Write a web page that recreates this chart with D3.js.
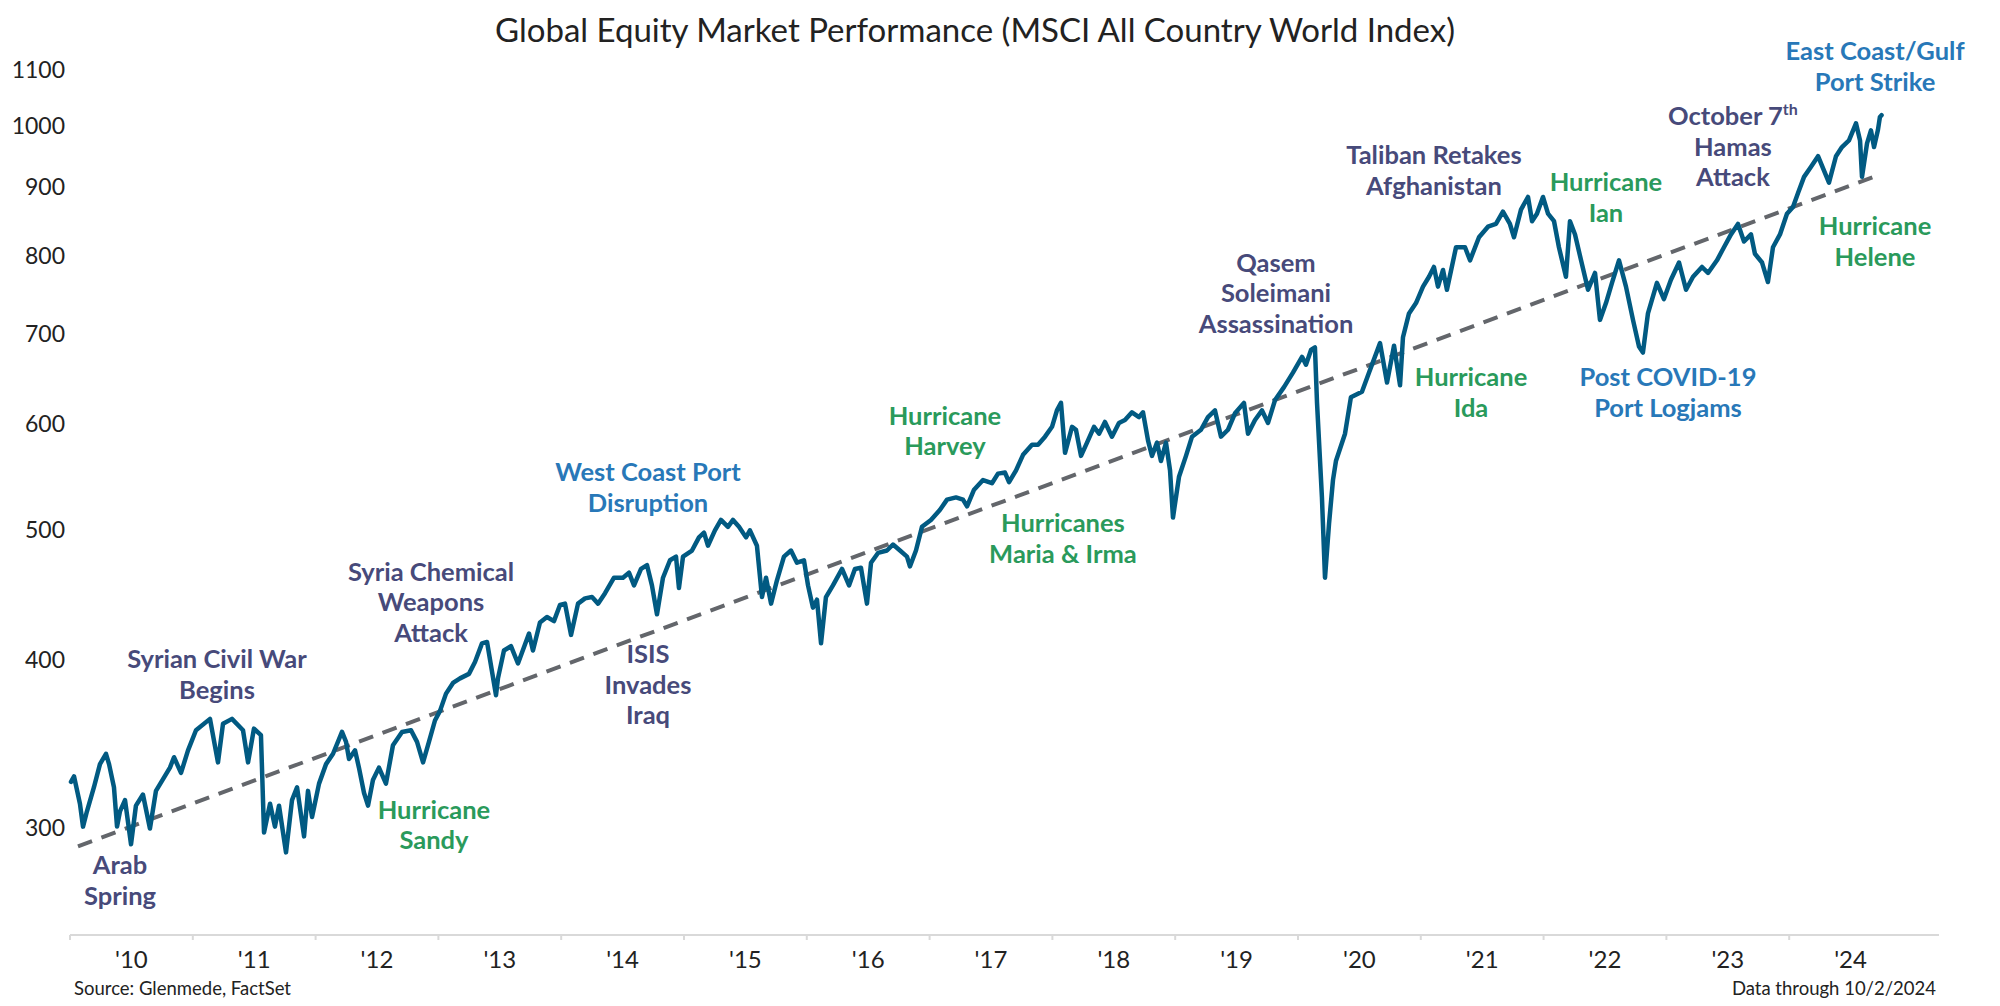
<!DOCTYPE html>
<html>
<head>
<meta charset="utf-8">
<script src="https://cdn.jsdelivr.net/npm/d3@7"></script>
<style>
  html, body { margin: 0; padding: 0; background: #ffffff; }
  svg { display: block; font-family: Lato, "Open Sans", sans-serif; }
</style>
</head>
<body>
<svg id="chart" width="2000" height="1006"></svg>
<script>
// ---------------- DATA ----------------
// time in decimal years, index level (MSCI ACWI)
const years = [
 2010.008,2010.033,2010.081,2010.106,2010.138,2010.195,2010.244,2010.293,2010.318,2010.358,
 2010.383,2010.407,2010.448,2010.497,2010.537,2010.594,2010.651,2010.700,2010.814,2010.847,
 2010.904,2010.961,2011.026,2011.140,2011.205,2011.246,2011.319,2011.409,2011.450,2011.498,
 2011.555,2011.580,2011.629,2011.669,2011.702,2011.759,2011.808,2011.849,2011.906,2011.938,
 2011.971,2012.028,2012.085,2012.142,2012.215,2012.248,2012.272,2012.321,2012.353,2012.394,
 2012.427,2012.467,2012.516,2012.573,2012.630,2012.704,2012.777,2012.826,2012.875,2012.923,
 2012.972,2013.013,2013.062,2013.119,2013.176,2013.249,2013.298,2013.355,2013.396,2013.469,
 2013.485,2013.534,2013.591,2013.648,2013.738,2013.770,2013.827,2013.884,2013.941,2013.990,
 2014.031,2014.080,2014.137,2014.194,2014.251,2014.300,2014.357,2014.430,2014.503,2014.552,
 2014.593,2014.650,2014.699,2014.739,2014.780,2014.829,2014.886,2014.935,2014.959,2014.992,
 2015.065,2015.122,2015.163,2015.195,2015.252,2015.301,2015.358,2015.399,2015.448,2015.505,
 2015.537,2015.594,2015.635,2015.668,2015.709,2015.757,2015.814,2015.871,2015.920,2015.977,
 2016.010,2016.050,2016.083,2016.116,2016.156,2016.213,2016.287,2016.344,2016.392,2016.441,
 2016.490,2016.523,2016.580,2016.653,2016.702,2016.759,2016.816,2016.840,2016.889,2016.938,
 2017.011,2017.085,2017.142,2017.215,2017.272,2017.305,2017.362,2017.435,2017.508,2017.557,
 2017.614,2017.647,2017.704,2017.761,2017.834,2017.883,2017.940,2017.997,2018.037,2018.070,
 2018.103,2018.160,2018.192,2018.233,2018.282,2018.339,2018.380,2018.428,2018.485,2018.542,
 2018.591,2018.648,2018.705,2018.738,2018.779,2018.811,2018.852,2018.884,2018.925,2018.958,
 2018.982,2019.031,2019.088,2019.137,2019.210,2019.267,2019.324,2019.373,2019.430,2019.487,
 2019.560,2019.593,2019.650,2019.707,2019.756,2019.813,2019.886,2019.959,2020.033,2020.065,
 2020.106,2020.138,2020.155,2020.195,2020.220,2020.253,2020.285,2020.309,2020.383,2020.431,
 2020.521,2020.578,2020.668,2020.725,2020.782,2020.831,2020.855,2020.904,2020.961,2021.018,
 2021.067,2021.107,2021.140,2021.181,2021.213,2021.287,2021.360,2021.401,2021.474,2021.547,
 2021.612,2021.669,2021.726,2021.759,2021.816,2021.873,2021.906,2021.946,2021.995,2022.036,
 2022.085,2022.125,2022.182,2022.215,2022.256,2022.305,2022.362,2022.419,2022.459,2022.508,
 2022.557,2022.614,2022.671,2022.728,2022.777,2022.809,2022.850,2022.923,2022.980,2023.037,
 2023.103,2023.160,2023.217,2023.290,2023.339,2023.412,2023.469,2023.526,2023.583,2023.632,
 2023.689,2023.721,2023.779,2023.827,2023.868,2023.925,2023.982,2024.031,2024.072,2024.121,
 2024.178,2024.235,2024.292,2024.324,2024.381,2024.430,2024.487,2024.544,2024.577,2024.593,
 2024.634,2024.666,2024.691,2024.723,2024.739,2024.752
];
const values = [
 325,328,313,301,309,322,335,341,335,322,
 301,309,315,292,312,318,300,320,333,339,
 330,343,355,362,336,359,362,355,336,356,
 352,298,313,301,312,288,315,322,296,320,
 306,324,335,341,354,348,338,343,333,319,
 312,326,333,324,346,354,355,348,336,348,
 361,367,378,385,388,391,399,412,413,377,
 388,407,410,398,419,407,427,431,428,440,
 441,418,441,445,446,441,449,461,461,465,
 455,468,471,455,433,461,475,478,453,478,
 483,494,498,487,500,509,503,509,503,494,
 500,487,446,461,441,459,478,483,473,475,
 455,438,444,412,446,455,468,455,468,469,
 441,473,481,483,488,483,478,470,483,503,
 509,518,527,529,527,521,536,545,542,551,
 552,543,554,569,579,579,587,597,614,622,
 571,597,594,568,581,597,590,602,587,601,
 604,612,607,612,583,568,581,563,581,554,
 511,548,568,587,594,607,614,587,594,611,
 622,590,604,614,601,625,639,655,673,664,
 681,684,622,529,461,506,545,563,590,628,
 634,655,689,644,686,641,696,725,738,759,
 772,785,759,781,755,812,812,794,826,841,
 845,863,845,826,866,885,849,860,885,860,
 849,812,772,849,830,794,755,777,717,738,
 764,794,759,717,685,678,725,764,743,768,
 791,755,772,785,777,794,812,830,845,820,
 830,803,791,765,812,830,860,870,891,916,
 932,949,922,907,949,964,975,1004,975,916,
 970,992,964,993,1015,1018
];
// dashed trend line end points
const trendYears  = [2010.065, 2024.730];
const trendValues = [291, 919];

// axis ticks & labels
const yTickValues = [300, 400, 500, 600, 700, 800, 900, 1000, 1100];
const xTickYears  = [2010,2011,2012,2013,2014,2015,2016,2017,2018,2019,2020,2021,2022,2023,2024];
const xTickLabels = ["'10","'11","'12","'13","'14","'15","'16","'17","'18","'19","'20","'21","'22","'23","'24"];

// annotations: text lines, category, anchor (decimal year, index level of first line)
const annoText = [
  ["Arab","Spring"],
  ["Syrian Civil War","Begins"],
  ["Syria Chemical","Weapons","Attack"],
  ["Hurricane","Sandy"],
  ["ISIS","Invades","Iraq"],
  ["West Coast Port","Disruption"],
  ["Hurricane","Harvey"],
  ["Hurricanes","Maria & Irma"],
  ["Qasem","Soleimani","Assassination"],
  ["Taliban Retakes","Afghanistan"],
  ["Hurricane","Ian"],
  ["October 7|th","Hamas","Attack"],
  ["East Coast/Gulf","Port Strike"],
  ["Hurricane","Helene"],
  ["Hurricane","Ida"],
  ["Post COVID-19","Port Logjams"]
];
const annoKind = ["geo","geo","geo","hurr","geo","port","hurr","hurr","geo","geo","hurr","geo","port","hurr","hurr","port"];
const annoYear = [2010.407,2011.197,2012.940,2012.964,2014.707,2014.707,2017.125,2018.086,2019.821,2021.107,2022.508,2023.542,2024.699,2024.699,2021.409,2023.013];
const annoVal  = [281.2,400.4,464.8,309.2,403.8,551.3,607.2,505.2,789.1,949.3,906.4,1014.8,1134,840.6,649,649];

// ---------------- LAYOUT ----------------
const W = 2000, H = 1006;
const plot = { left: 70, right: 1939, top: 70, bottom: 935 };
const colors = { line: "#015a82", trend: "#63666b", geo: "#474a7a", hurr: "#2a9a5b", port: "#2878b8", text: "#222222", axis: "#d9d9d9" };

const svg = d3.select("#chart");

const x = d3.scaleLinear().domain([2010, 2025.22]).range([plot.left, plot.right]);
const y = d3.scaleLog().domain([250, 1100]).range([plot.bottom, plot.top]);

// title
svg.append("text")
  .attr("x", 975).attr("y", 29)
  .attr("text-anchor", "middle").attr("dominant-baseline", "central")
  .style("font-size", "33px").style("fill", colors.text)
  .text("Global Equity Market Performance (MSCI All Country World Index)");

// y axis labels (no axis line)
const yAxis = d3.axisLeft(y).tickValues(yTickValues).tickSize(0).tickPadding(5).tickFormat(d3.format("d"));
const gy = svg.append("g").attr("transform", `translate(${plot.left},0)`).call(yAxis);
gy.select(".domain").remove();
gy.selectAll("text").style("font-family", "Lato").style("font-size", "23px").style("fill", colors.text);

// x axis
const gx = svg.append("g").attr("transform", `translate(0,${plot.bottom})`);
gx.append("line").attr("x1", plot.left).attr("x2", plot.right).attr("y1", 0).attr("y2", 0)
  .attr("stroke", colors.axis).attr("stroke-width", 2);
gx.selectAll("line.tick").data(xTickYears).join("line").attr("class", "tick")
  .attr("x1", d => x(d)).attr("x2", d => x(d)).attr("y1", 0).attr("y2", 5)
  .attr("stroke", colors.axis).attr("stroke-width", 2);
gx.selectAll("text.lbl").data(xTickYears).join("text").attr("class", "lbl")
  .attr("x", d => x(d + 0.5)).attr("y", 23)
  .attr("text-anchor", "middle").attr("dominant-baseline", "central")
  .style("font-size", "24px").style("fill", colors.text)
  .text((d, i) => xTickLabels[i]);

// trend line
const trendData = trendYears.map((t, i) => ({ t, v: trendValues[i] }));
svg.append("path").datum(trendData)
  .attr("d", d3.line().x(d => x(d.t)).y(d => y(d.v)))
  .attr("fill", "none").attr("stroke", colors.trend).attr("stroke-width", 4)
  .attr("stroke-dasharray", "15,10");

// main line
const series = years.map((t, i) => ({ t, v: values[i] }));
svg.append("path").datum(series)
  .attr("d", d3.line().x(d => x(d.t)).y(d => y(d.v)))
  .attr("fill", "none").attr("stroke", colors.line).attr("stroke-width", 4.5)
  .attr("stroke-linejoin", "round").attr("stroke-linecap", "round");

// annotations
const lineH = 30.5;
annoText.forEach((lines, i) => {
  const t = svg.append("text")
    .attr("text-anchor", "middle")
    .style("font-size", "25.5px").style("font-weight", 700)
    .style("fill", colors[annoKind[i]]);
  const cx = x(annoYear[i]), cy = y(annoVal[i]);
  lines.forEach((ln, j) => {
    const parts = ln.split("|");
    t.append("tspan").attr("x", cx).attr("y", cy + j * lineH + 8).text(parts[0]);
    if (parts[1]) {
      t.append("tspan").attr("dy", -10).style("font-size", "16px").text(parts[1]);
    }
  });
});

// footer
svg.append("text").attr("x", 74).attr("y", 988).attr("dominant-baseline", "central")
  .style("font-size", "18.5px").style("fill", colors.text).text("Source: Glenmede, FactSet");
svg.append("text").attr("x", 1936).attr("y", 988).attr("text-anchor", "end").attr("dominant-baseline", "central")
  .style("font-size", "18.5px").style("fill", colors.text).text("Data through 10/2/2024");
</script>
</body>
</html>
